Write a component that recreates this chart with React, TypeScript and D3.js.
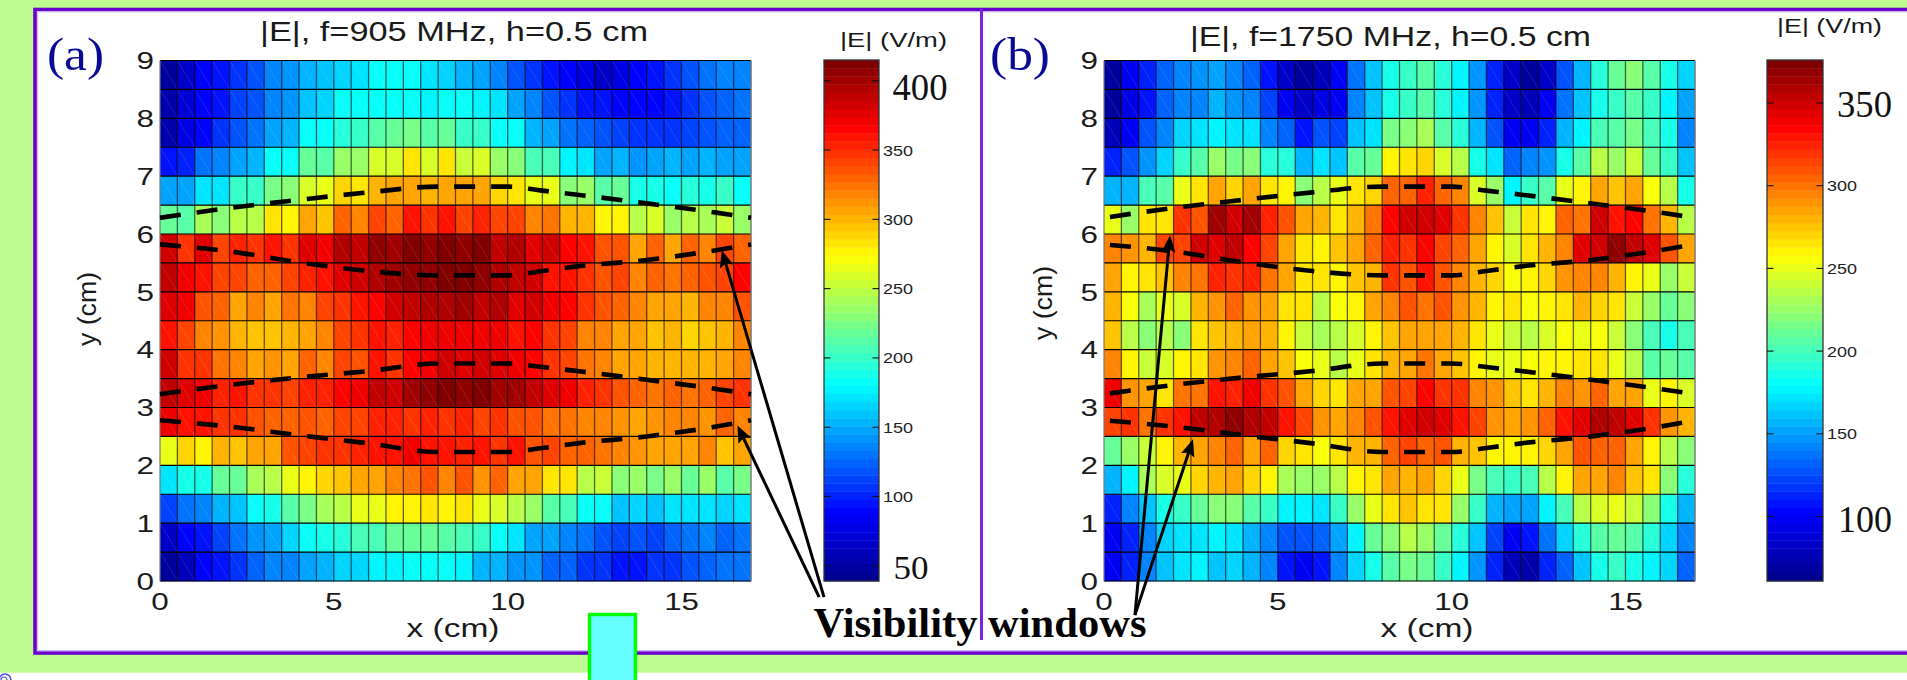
import React from 'react';
import * as d3 from 'd3';

const SANS = '"Liberation Sans", Arial, sans-serif';
const SERIF = '"Liberation Serif", "Times New Roman", serif';

// |E| in V/m, one row per 0.5 cm of y, top row (y = 8.5..9) first, 34 cells per row
const field905: number[][] = [
  [47,68,86,97,104,116,134,141,156,160,165,172,180,180,180,172,165,156,147,137,119,104,97,86,75,68,76,86,97,108,119,130,134,134],
  [51,73,86,93,112,119,134,141,158,163,180,180,180,180,180,178,180,180,176,170,147,137,119,108,97,93,86,86,90,97,108,119,123,130],
  [54,75,86,104,119,130,145,156,180,180,195,202,213,217,224,213,217,202,198,180,180,156,147,130,126,116,112,108,104,108,112,116,123,127],
  [93,101,130,134,149,156,180,180,217,213,235,235,257,261,280,261,280,254,261,235,231,206,209,175,171,149,156,141,147,156,149,151,149,149],
  [149,145,174,171,198,198,224,231,261,265,289,285,298,305,307,302,307,304,305,289,285,267,263,231,235,211,217,187,191,180,195,189,202,180],
  [217,213,243,228,250,250,280,274,305,295,331,320,343,331,361,350,357,342,353,339,342,316,322,298,298,274,274,250,261,237,250,243,254,235],
  [380,350,378,342,353,346,359,350,378,372,394,390,407,402,411,407,411,404,411,390,394,376,381,364,357,335,335,307,331,307,327,320,342,327],
  [387,368,357,342,342,327,331,340,353,361,376,385,396,400,404,407,413,411,407,392,387,385,357,361,350,335,339,320,327,324,327,335,342,364],
  [375,368,335,331,307,320,307,324,316,340,346,357,364,380,387,394,392,400,387,394,376,385,368,364,346,335,327,320,309,307,302,316,316,335],
  [361,342,320,312,302,295,297,302,307,320,339,346,361,355,364,368,368,373,368,368,361,364,350,339,320,320,309,305,297,298,291,293,302,316],
  [380,350,350,324,320,307,313,305,327,320,340,335,361,350,364,368,385,375,385,378,368,364,350,339,324,320,309,307,298,299,298,298,305,316],
  [390,378,368,353,357,346,350,342,353,353,364,368,387,383,400,404,411,407,411,402,400,390,378,368,353,350,335,331,324,327,324,331,342,350],
  [368,357,361,346,346,335,331,327,335,329,342,342,353,353,350,353,350,353,342,346,335,335,324,324,320,320,313,309,313,316,320,313,327,316],
  [263,291,274,302,295,309,309,335,342,350,346,353,361,361,368,357,361,353,357,346,357,335,339,327,327,324,320,313,305,309,305,316,295,307],
  [170,191,191,220,217,243,246,267,274,291,295,309,307,320,324,335,320,335,313,327,307,309,280,280,250,255,228,235,224,235,220,233,213,224],
  [112,132,136,156,160,180,191,213,224,243,245,265,268,274,278,285,276,280,263,261,245,235,213,206,180,184,160,165,160,169,172,174,167,169],
  [66,86,97,115,128,141,149,165,180,187,195,209,206,217,217,220,213,206,198,180,171,149,149,134,132,119,115,119,112,127,130,137,127,132],
  [47,62,86,93,108,123,134,134,149,156,165,165,175,175,180,180,180,175,156,156,141,141,127,123,108,104,97,93,104,108,119,123,130,130],
];

const field1750: number[][] = [
  [68,97,112,134,143,146,151,140,131,109,83,68,80,100,137,162,188,197,207,191,179,146,115,83,68,85,128,159,191,210,219,204,188,165],
  [69,91,106,131,143,142,156,149,140,122,100,85,91,100,140,162,188,197,205,191,179,146,115,85,80,100,135,162,188,197,205,194,179,153],
  [80,97,128,140,165,171,179,172,171,140,134,109,128,122,162,174,216,219,230,208,191,159,128,100,100,112,159,179,201,207,216,201,188,140],
  [112,128,146,165,197,204,228,216,222,191,191,159,171,162,207,210,258,263,272,247,238,188,173,131,140,149,188,204,235,228,241,213,197,162],
  [159,159,201,207,250,263,287,270,284,263,258,222,238,250,266,272,306,303,324,303,297,247,225,179,194,204,249,258,284,275,284,253,238,185],
  [250,228,267,266,321,309,364,351,362,325,312,287,278,267,281,300,334,348,351,345,321,297,275,241,263,260,306,300,350,327,334,300,278,235],
  [297,290,282,315,315,348,343,356,332,315,284,267,258,275,284,306,324,321,334,315,303,284,258,248,263,281,297,345,348,370,354,343,312,284],
  [286,258,263,275,297,300,324,318,324,300,284,267,264,261,275,278,318,312,327,309,294,278,272,253,258,270,290,297,297,281,258,249,228,242],
  [280,253,231,250,247,280,290,303,290,284,267,264,238,253,258,287,294,309,300,312,290,278,258,263,253,258,263,281,270,267,241,225,210,219],
  [275,238,219,235,219,263,274,278,284,278,258,241,231,238,244,259,275,284,287,284,278,263,252,242,235,244,253,249,253,241,219,201,185,201],
  [297,258,241,244,258,265,290,294,303,284,275,253,249,238,252,263,278,284,300,284,275,260,250,250,253,260,258,263,267,250,238,207,213,207],
  [337,290,284,267,300,300,331,324,337,321,312,284,272,267,284,284,312,315,334,321,321,297,290,274,267,278,297,290,306,284,287,250,260,244],
  [315,318,300,318,327,354,358,370,360,356,327,315,290,284,297,309,331,343,348,343,331,315,290,284,290,303,327,343,359,354,342,318,290,280],
  [210,228,240,258,278,287,297,303,284,303,269,267,253,267,281,278,303,315,306,309,281,274,258,258,258,269,287,309,303,306,286,258,238,219],
  [159,179,232,247,249,272,278,283,269,260,232,225,225,238,260,267,284,278,284,270,252,216,201,194,201,238,258,284,287,294,274,263,222,191],
  [115,140,162,185,197,210,222,222,204,197,179,179,173,197,225,252,267,275,266,267,228,194,159,154,152,179,201,238,244,252,240,219,185,159],
  [97,115,140,168,173,174,179,173,159,143,128,125,131,152,179,210,222,238,225,210,191,162,122,100,106,137,165,191,207,210,204,191,168,143],
  [97,115,140,162,171,179,162,168,159,140,109,97,109,140,168,188,207,216,213,197,179,146,112,80,74,115,131,162,185,194,185,179,165,131],
];

// measured window edges (dashed), x in cm
const windowX = [0, 2, 4, 6, 8, 10, 11, 12, 14, 16, 17];
const windowTop = [6.28, 6.45, 6.59, 6.72, 6.82, 6.82, 6.75, 6.68, 6.53, 6.37, 6.28];
const windowUpper = [5.82, 5.7, 5.51, 5.36, 5.285, 5.285, 5.36, 5.44, 5.55, 5.72, 5.82];
const windowLower = [3.23, 3.39, 3.52, 3.63, 3.76, 3.76, 3.7, 3.63, 3.48, 3.32, 3.23];
const windowBottom = [2.78, 2.67, 2.52, 2.38, 2.23, 2.23, 2.3, 2.38, 2.5, 2.67, 2.78];
const windowEdges = [windowTop, windowUpper, windowLower, windowBottom];

const xTicks = [0, 5, 10, 15];
const yTicks = [0, 1, 2, 3, 4, 5, 6, 7, 8, 9];
const barTicksA = [50, 100, 150, 200, 250, 300, 350, 400];
const barTicksB = [100, 150, 200, 250, 300, 350];

const jetStops = ['#000090', '#0000ff', '#00ffff', '#ffff00', '#ff0000', '#800000'];
const jetAt = d3
  .scaleLinear<string>()
  .domain([0, 1 / 8, 3 / 8, 5 / 8, 7 / 8, 1])
  .range(jetStops)
  .interpolate(d3.interpolateRgb);

const makeColor = (lo: number, hi: number) => {
  const t = d3.scaleLinear().domain([lo, hi]).range([0, 1]).clamp(true);
  return (v: number) => jetAt(Math.floor(Math.min(t(v), 0.9999) * 64) / 63);
};

interface LabelProps {
  x: number;
  y: number;
  w?: number;
  size: number;
  anchor?: string;
  family?: string;
  weight?: string;
  fill?: string;
  rotate?: boolean;
  children: React.ReactNode;
}

// the source figure is stretched sideways, so most labels get a fixed length
const Label = ({x, y, w, size, anchor = 'start', family = SANS, weight, fill = '#1a1a1a', rotate, children}: LabelProps) => (
  <text
    transform={`translate(${x},${y})${rotate ? ' rotate(-90)' : ''}`}
    textAnchor={anchor}
    fontFamily={family}
    fontWeight={weight}
    fontSize={size}
    fill={fill}
    textLength={w}
    lengthAdjust={w ? 'spacingAndGlyphs' : undefined}>
    {children}
  </text>
);

interface PanelProps {
  left: number;
  right: number;
  field: number[][];
  domain: [number, number];
  arrows: number[][];
  dashStart: number;
  xLabelAt: number;
}

const Panel = ({left, right, field, domain, arrows, dashStart, xLabelAt}: PanelProps) => {
  const x = d3.scaleLinear().domain([0, 17]).range([left, right]);
  const y = d3.scaleLinear().domain([0, 9]).range([581, 60.5]);
  const color = makeColor(domain[0], domain[1]);
  const edge = d3
    .line<number>()
    .x((_, i) => x(windowX[i]))
    .y(d => y(d))
    .curve(d3.curveMonotoneX);
  const cellW = x(0.5) - x(0);
  const cellH = y(8.5) - y(9);

  return (
    <g>
      {field.map((row, r) =>
        row.map((v, c) => {
          const cx = x(c * 0.5);
          const cy = y(9 - r * 0.5);
          return (
            <g key={`${r}-${c}`}>
              <rect x={cx} y={cy} width={cellW + 0.3} height={cellH + 0.3} fill={color(v)} />
              <line x1={cx} y1={cy} x2={cx + cellW} y2={cy + cellH} stroke="#fff" strokeOpacity={0.14} strokeWidth={0.8} />
            </g>
          );
        }),
      )}
      {d3.range(1, 34).map(c => (
        <line key={c} x1={x(c * 0.5)} x2={x(c * 0.5)} y1={y(9)} y2={y(0)} stroke="#000" strokeOpacity={0.6} strokeWidth={1.3} />
      ))}
      {d3.range(0, 19).map(r => (
        <line key={r} x1={x(0)} x2={x(17)} y1={y(r * 0.5)} y2={y(r * 0.5)} stroke="#000" strokeWidth={1.1} />
      ))}
      <line x1={x(0)} x2={x(0)} y1={y(9)} y2={y(0)} stroke="#777" strokeWidth={1.2} />
      <line x1={x(17)} x2={x(17)} y1={y(9)} y2={y(0)} stroke="#777" strokeWidth={1.4} />

      {windowEdges.map((vals, i) => (
        <path
          key={i}
          d={edge(vals) || ''}
          fill="none"
          stroke="#000"
          strokeWidth={4.6}
          strokeDasharray="21 16"
          strokeDashoffset={dashStart}
        />
      ))}

      {xTicks.map(t => (
        <Label key={t} x={x(t)} y={609.5} w={t < 10 ? 17.5 : 34.7} size={24} anchor="middle">
          {t}
        </Label>
      ))}
      {yTicks.map(t => (
        <Label key={t} x={left - 6} y={y(t) + 8.8} w={17.5} size={24} anchor="end">
          {t}
        </Label>
      ))}
      <Label x={xLabelAt} y={636.5} w={93} size={25} anchor="middle">
        x (cm)
      </Label>

      {arrows.map((a, i) => {
        const x0 = x(a[0]);
        const y0 = y(a[1]);
        const x1 = x(a[2]);
        const y1 = y(a[3]);
        const len = Math.hypot(x1 - x0, y1 - y0);
        const back = 7 / len;
        return (
          <line
            key={i}
            x1={x0}
            y1={y0}
            x2={x1 - (x1 - x0) * back}
            y2={y1 - (y1 - y0) * back}
            stroke="#000"
            strokeWidth={3}
            markerEnd="url(#arrowHead)"
          />
        );
      })}
    </g>
  );
};

interface BarProps {
  left: number;
  right: number;
  domain: [number, number];
  ticks: number[];
  big: number[];
}

const ColorBar = ({left, right, domain, ticks, big}: BarProps) => {
  const y = d3.scaleLinear().domain(domain).range([581, 60]);
  const color = makeColor(domain[0], domain[1]);
  const bands = d3.range(64);
  const step = (domain[1] - domain[0]) / 64;
  return (
    <g>
      {bands.map(b => {
        const lo = domain[0] + b * step;
        return <rect key={b} x={left} width={right - left} y={y(lo + step)} height={y(lo) - y(lo + step) + 0.4} fill={color(lo + step / 2)} />;
      })}
      <rect x={left} y={60} width={right - left} height={521} fill="none" stroke="#333" strokeWidth={1.3} />
      {ticks.map(t => (
        <g key={t}>
          <line x1={left} x2={left + 6.5} y1={y(t)} y2={y(t)} stroke="#111" strokeWidth={1.1} />
          <line x1={right - 6.5} x2={right} y1={y(t)} y2={y(t)} stroke="#111" strokeWidth={1.1} />
          {big.includes(t) ? null : (
            <Label x={right + 4} y={y(t) + 5.5} w={30} size={15} fill="#222">
              {t}
            </Label>
          )}
        </g>
      ))}
    </g>
  );
};

export default function App() {
  return (
    <svg
      width={1907}
      height={680}
      viewBox="0 0 1907 680"
      style={{position: 'fixed', left: 0, top: 0, display: 'block', background: '#fff'}}>
      <defs>
        <marker id="arrowHead" markerUnits="userSpaceOnUse" markerWidth={20} markerHeight={16} refX={10} refY={8} orient="auto" viewBox="0 0 20 16">
          <path d="M0,1 L17,8 L0,15 L3,8 Z" fill="#000" />
        </marker>
      </defs>

      {/* slide background and frame */}
      <rect x={0} y={0} width={1907} height={672.7} fill="#BEFC90" />
      <rect x={35} y={9.5} width={1900} height={643.5} fill="#fff" stroke="#6A00CC" strokeWidth={3.6} />
      <rect x={37.6} y={11.8} width={1900} height={638.8} fill="none" stroke="#CDBBEE" strokeWidth={1.2} />
      <line x1={981.5} x2={981.5} y1={9} y2={640} stroke="#7A22DD" strokeWidth={3} />

      <Panel
        left={160}
        right={751}
        field={field905}
        domain={[39, 415]}
        dashStart={0}
        xLabelAt={453}
        arrows={[
          [19.1, -0.28, 16.16, 5.72],
          [18.96, -0.28, 16.61, 2.69],
        ]}
      />
      <Panel
        left={1104}
        right={1695}
        field={field1750}
        domain={[61, 376]}
        dashStart={31}
        xLabelAt={1427}
        arrows={[
          [0.89, -0.59, 1.9, 5.98],
          [0.89, -0.59, 2.56, 2.45],
        ]}
      />
      <ColorBar left={824} right={879} domain={[39, 415]} ticks={barTicksA} big={[50, 400]} />
      <ColorBar left={1767} right={1823} domain={[61, 376]} ticks={barTicksB} big={[100, 350]} />

      <Label x={260} y={40.7} w={388} size={28}>|E|, f=905 MHz, h=0.5 cm</Label>
      <Label x={1190} y={46} w={401} size={28.5}>|E|, f=1750 MHz, h=0.5 cm</Label>
      <Label x={840} y={47} w={107} size={21}>|E| (V/m)</Label>
      <Label x={1777} y={33} w={105} size={21}>|E| (V/m)</Label>

      <Label x={96} y={346} w={74} size={25} rotate>y (cm)</Label>
      <Label x={1052} y={340} w={74} size={25} rotate>y (cm)</Label>

      <Label x={47} y={70} w={57} size={46} family={SERIF} fill="#0A0A96">(a)</Label>
      <Label x={990} y={70} w={60} size={46} family={SERIF} fill="#0A0A96">(b)</Label>

      <Label x={892.5} y={100} w={55} size={37} family={SERIF} fill="#111">400</Label>
      <Label x={893.5} y={579} w={35} size={33} family={SERIF} fill="#111">50</Label>
      <Label x={1837} y={117} w={55} size={37} family={SERIF} fill="#111">350</Label>
      <Label x={1838} y={532} w={54} size={37} family={SERIF} fill="#111">100</Label>

      <Label x={813.5} y={637} w={333} size={42} family={SERIF} weight="bold" fill="#000">
        Visibility windows
      </Label>

      {/* slide leftovers: navigation tab and icon */}
      <rect x={589.5} y={614.5} width={46} height={80} fill="#66FFFF" stroke="#00FF00" strokeWidth={3.4} />
      <ellipse cx={5} cy={680} rx={6} ry={6} fill="none" stroke="#5050E0" strokeWidth={1.6} />
      <ellipse cx={4} cy={680} rx={3} ry={3} fill="none" stroke="#5050E0" strokeWidth={1.2} />
    </svg>
  );
}
